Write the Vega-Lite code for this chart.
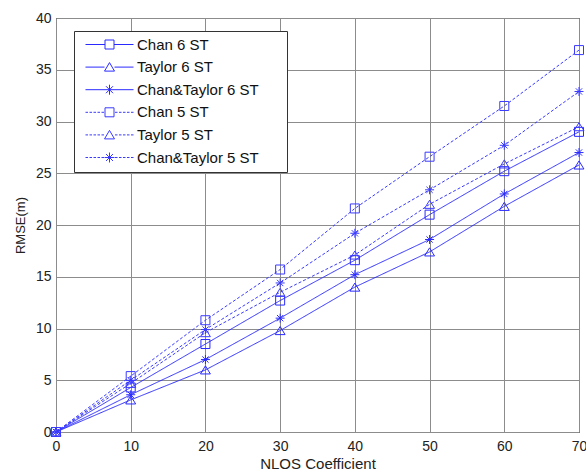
{
  "$schema": "https://vega.github.io/schema/vega-lite/v6.json",
  "width": 523,
  "height": 414,
  "autosize": "none",
  "padding": {"left": 56, "top": 18, "right": 7, "bottom": 41},
  "background": "white",
  "config": {
    "view": {"stroke": "#000000", "strokeWidth": 1},
    "font": "Liberation Sans",
    "axis": {
      "domain": false,
      "ticks": false,
      "grid": true,
      "gridColor": "#8c8c8c",
      "gridOpacity": 1,
      "gridWidth": 1,
      "labelFont": "Liberation Sans",
      "labelFontSize": 14,
      "labelColor": "#222222",
      "titleFont": "Liberation Sans",
      "titleFontSize": 15,
      "titleFontWeight": "normal",
      "titleColor": "#222222"
    }
  },
  "data": {
    "values": [
      {"x": 0, "rmse": 0, "series": "Chan 6 ST", "marker": "square", "st": "6 ST"},
      {"x": 10, "rmse": 4.3, "series": "Chan 6 ST", "marker": "square", "st": "6 ST"},
      {"x": 20, "rmse": 8.5, "series": "Chan 6 ST", "marker": "square", "st": "6 ST"},
      {"x": 30, "rmse": 12.7, "series": "Chan 6 ST", "marker": "square", "st": "6 ST"},
      {"x": 40, "rmse": 16.6, "series": "Chan 6 ST", "marker": "square", "st": "6 ST"},
      {"x": 50, "rmse": 21.0, "series": "Chan 6 ST", "marker": "square", "st": "6 ST"},
      {"x": 60, "rmse": 25.2, "series": "Chan 6 ST", "marker": "square", "st": "6 ST"},
      {"x": 70, "rmse": 29.0, "series": "Chan 6 ST", "marker": "square", "st": "6 ST"},
      {"x": 0, "rmse": 0, "series": "Taylor 6 ST", "marker": "triangle", "st": "6 ST"},
      {"x": 10, "rmse": 3.1, "series": "Taylor 6 ST", "marker": "triangle", "st": "6 ST"},
      {"x": 20, "rmse": 6.0, "series": "Taylor 6 ST", "marker": "triangle", "st": "6 ST"},
      {"x": 30, "rmse": 9.8, "series": "Taylor 6 ST", "marker": "triangle", "st": "6 ST"},
      {"x": 40, "rmse": 14.0, "series": "Taylor 6 ST", "marker": "triangle", "st": "6 ST"},
      {"x": 50, "rmse": 17.4, "series": "Taylor 6 ST", "marker": "triangle", "st": "6 ST"},
      {"x": 60, "rmse": 21.8, "series": "Taylor 6 ST", "marker": "triangle", "st": "6 ST"},
      {"x": 70, "rmse": 25.8, "series": "Taylor 6 ST", "marker": "triangle", "st": "6 ST"},
      {"x": 0, "rmse": 0, "series": "Chan&Taylor 6 ST", "marker": "star", "st": "6 ST"},
      {"x": 10, "rmse": 3.6, "series": "Chan&Taylor 6 ST", "marker": "star", "st": "6 ST"},
      {"x": 20, "rmse": 7.0, "series": "Chan&Taylor 6 ST", "marker": "star", "st": "6 ST"},
      {"x": 30, "rmse": 11.0, "series": "Chan&Taylor 6 ST", "marker": "star", "st": "6 ST"},
      {"x": 40, "rmse": 15.2, "series": "Chan&Taylor 6 ST", "marker": "star", "st": "6 ST"},
      {"x": 50, "rmse": 18.6, "series": "Chan&Taylor 6 ST", "marker": "star", "st": "6 ST"},
      {"x": 60, "rmse": 23.0, "series": "Chan&Taylor 6 ST", "marker": "star", "st": "6 ST"},
      {"x": 70, "rmse": 27.0, "series": "Chan&Taylor 6 ST", "marker": "star", "st": "6 ST"},
      {"x": 0, "rmse": 0, "series": "Chan 5 ST", "marker": "square", "st": "5 ST"},
      {"x": 10, "rmse": 5.4, "series": "Chan 5 ST", "marker": "square", "st": "5 ST"},
      {"x": 20, "rmse": 10.8, "series": "Chan 5 ST", "marker": "square", "st": "5 ST"},
      {"x": 30, "rmse": 15.7, "series": "Chan 5 ST", "marker": "square", "st": "5 ST"},
      {"x": 40, "rmse": 21.6, "series": "Chan 5 ST", "marker": "square", "st": "5 ST"},
      {"x": 50, "rmse": 26.6, "series": "Chan 5 ST", "marker": "square", "st": "5 ST"},
      {"x": 60, "rmse": 31.5, "series": "Chan 5 ST", "marker": "square", "st": "5 ST"},
      {"x": 70, "rmse": 36.9, "series": "Chan 5 ST", "marker": "square", "st": "5 ST"},
      {"x": 0, "rmse": 0, "series": "Taylor 5 ST", "marker": "triangle", "st": "5 ST"},
      {"x": 10, "rmse": 4.7, "series": "Taylor 5 ST", "marker": "triangle", "st": "5 ST"},
      {"x": 20, "rmse": 9.6, "series": "Taylor 5 ST", "marker": "triangle", "st": "5 ST"},
      {"x": 30, "rmse": 13.5, "series": "Taylor 5 ST", "marker": "triangle", "st": "5 ST"},
      {"x": 40, "rmse": 17.1, "series": "Taylor 5 ST", "marker": "triangle", "st": "5 ST"},
      {"x": 50, "rmse": 22.0, "series": "Taylor 5 ST", "marker": "triangle", "st": "5 ST"},
      {"x": 60, "rmse": 25.9, "series": "Taylor 5 ST", "marker": "triangle", "st": "5 ST"},
      {"x": 70, "rmse": 29.5, "series": "Taylor 5 ST", "marker": "triangle", "st": "5 ST"},
      {"x": 0, "rmse": 0, "series": "Chan&Taylor 5 ST", "marker": "star", "st": "5 ST"},
      {"x": 10, "rmse": 5.0, "series": "Chan&Taylor 5 ST", "marker": "star", "st": "5 ST"},
      {"x": 20, "rmse": 9.9, "series": "Chan&Taylor 5 ST", "marker": "star", "st": "5 ST"},
      {"x": 30, "rmse": 14.4, "series": "Chan&Taylor 5 ST", "marker": "star", "st": "5 ST"},
      {"x": 40, "rmse": 19.2, "series": "Chan&Taylor 5 ST", "marker": "star", "st": "5 ST"},
      {"x": 50, "rmse": 23.4, "series": "Chan&Taylor 5 ST", "marker": "star", "st": "5 ST"},
      {"x": 60, "rmse": 27.7, "series": "Chan&Taylor 5 ST", "marker": "star", "st": "5 ST"},
      {"x": 70, "rmse": 32.9, "series": "Chan&Taylor 5 ST", "marker": "star", "st": "5 ST"}
    ]
  },
  "encoding": {
    "x": {
      "field": "x", "type": "quantitative",
      "scale": {"domain": [0, 70], "nice": false, "zero": false},
      "axis": {"values": [0, 10, 20, 30, 40, 50, 60, 70], "title": "NLOS Coefficient", "labelPadding": 7, "titlePadding": 3, "labelFlush": false}
    },
    "y": {
      "field": "rmse", "type": "quantitative",
      "scale": {"domain": [0, 40], "nice": false},
      "axis": {"values": [0, 5, 10, 15, 20, 25, 30, 35, 40], "title": "RMSE(m)", "titleFontSize": 13, "labelPadding": 5, "titlePadding": 8}
    },
    "color": {
      "field": "series", "type": "nominal",
      "scale": {
        "domain": ["Chan 6 ST", "Taylor 6 ST", "Chan&Taylor 6 ST", "Chan 5 ST", "Taylor 5 ST", "Chan&Taylor 5 ST"],
        "range": ["#2a2aff", "#2a2aff", "#2a2aff", "#3a3aff", "#3a3aff", "#3a3aff"]
      },
      "legend": {
        "title": null,
        "orient": "none",
        "legendX": 18,
        "legendY": 13,
        "fillColor": "white",
        "strokeColor": "#333333",
        "padding": 6,
        "symbolOffset": 22,
        "symbolSize": 100,
        "labelOffset": 20,
        "labelFont": "Liberation Sans",
        "labelFontSize": 15,
        "labelColor": "#111111",
        "labelExpr": "datum.label + '\u2800\u2800'",
        "rowPadding": 6.6,
        "encode": {
          "symbols": {
            "update": {
              "shape": {"signal": "datum.value === 'Chan 6 ST' ? 'M-4.8,0H-0.9M0.9,0H4.8M-0.9,-0.9H0.9V0.9H-0.9Z' : datum.value === 'Taylor 6 ST' ? 'M-4.8,0H-1M1,0H4.8M0,-0.9L1,0.8H-1Z' : datum.value === 'Chan&Taylor 6 ST' ? 'M-4.8,0H4.8M0,-1V1M-0.7,-0.7L0.7,0.7M-0.7,0.7L0.7,-0.7' : datum.value === 'Chan 5 ST' ? 'M-4.8,0H-4.3M-4,0H-3.5M-3.2,0H-2.7M-2.4,0H-1.9M-1.6,0H-1.1M1.1,0H1.6M1.9,0H2.4M2.7,0H3.2M3.5,0H4M4.3,0H4.8M-0.9,-0.9H0.9V0.9H-0.9Z' : datum.value === 'Taylor 5 ST' ? 'M-4.8,0H-4.3M-4,0H-3.5M-3.2,0H-2.7M-2.4,0H-1.9M-1.6,0H-1.1M1.1,0H1.6M1.9,0H2.4M2.7,0H3.2M3.5,0H4M4.3,0H4.8M0,-0.9L1,0.8H-1Z' : 'M-4.8,0H-4.3M-4,0H-3.5M-3.2,0H-2.7M-2.4,0H-1.9M-1.6,0H-1.1M1.1,0H1.6M1.9,0H2.4M2.7,0H3.2M3.5,0H4M4.3,0H4.8M0,-1V1M-1,0H1M-0.7,-0.7L0.7,0.7M-0.7,0.7L0.7,-0.7'"},
              "fill": {"value": "transparent"},
              "strokeWidth": {"value": 1},
              "strokeDash": {"value": []},
              "opacity": {"value": 1}
            }
          }
        }
      }
    }
  },
  "layer": [
    {
      "mark": {"type": "line", "strokeWidth": 1},
      "encoding": {
        "strokeDash": {
          "field": "st", "type": "nominal",
          "scale": {"domain": ["6 ST", "5 ST"], "range": [[1, 0], [3, 2]]},
          "legend": null
        }
      }
    },
    {
      "mark": {"type": "point", "filled": false, "strokeWidth": 1, "size": 81, "opacity": 1},
      "encoding": {
        "shape": {
          "field": "marker", "type": "nominal",
          "scale": {
            "domain": ["square", "triangle", "star"],
            "range": ["M-1,-1H1V1H-1Z", "M0,-0.9L1.1,0.9H-1.1Z", "M0,-1V1M-1,0H1M-0.7,-0.7L0.7,0.7M-0.7,0.7L0.7,-0.7"]
          },
          "legend": null
        }
      }
    }
  ]
}
